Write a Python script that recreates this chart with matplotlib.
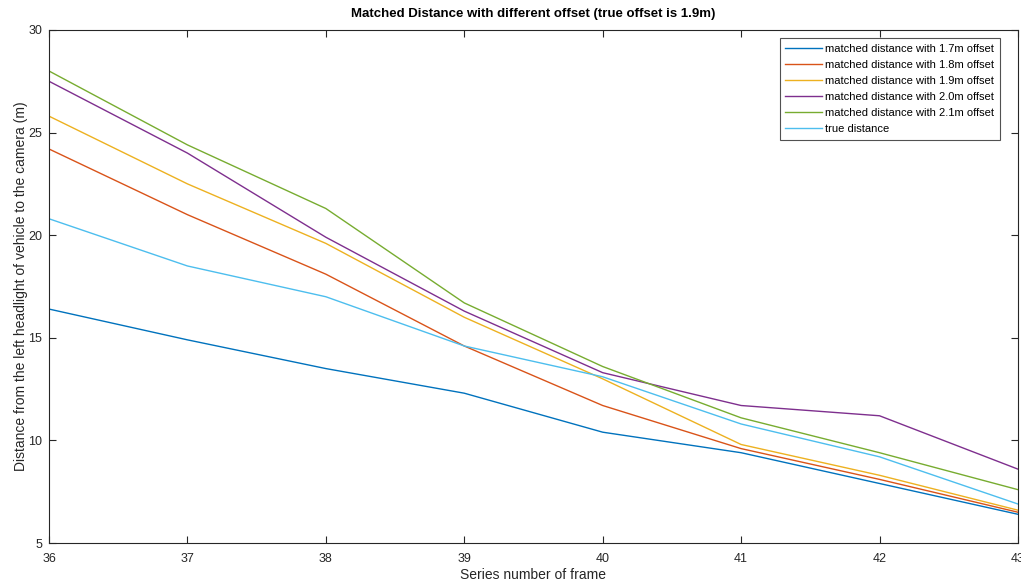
import matplotlib
matplotlib.use("Agg")
import matplotlib.pyplot as plt

plt.rcParams['font.family'] = ['Liberation Sans', 'DejaVu Sans']

frames = [36, 37, 38, 39, 40, 41, 42, 43]

dist_17 = [16.4, 14.9, 13.5, 12.3, 10.4, 9.4, 7.9, 6.4]
dist_18 = [24.2, 21.0, 18.1, 14.6, 11.7, 9.6, 8.1, 6.5]
dist_19 = [25.8, 22.5, 19.6, 16.0, 13.0, 9.8, 8.3, 6.6]
dist_20 = [27.5, 24.0, 19.9, 16.3, 13.3, 11.7, 11.2, 8.6]
dist_21 = [28.0, 24.4, 21.3, 16.7, 13.6, 11.1, 9.4, 7.6]
true_dist = [20.8, 18.5, 17.0, 14.6, 13.1, 10.8, 9.2, 6.9]

labels = [
    "matched distance with 1.7m offset",
    "matched distance with 1.8m offset",
    "matched distance with 1.9m offset",
    "matched distance with 2.0m offset",
    "matched distance with 2.1m offset",
    "true distance",
]
# default MATLAB line colours
colors = ["#0072BD", "#D95319", "#EDB120", "#7E2F8E", "#77AC30", "#4DBEEE"]
series = [dist_17, dist_18, dist_19, dist_20, dist_21, true_dist]

fig = plt.figure(figsize=(10.21, 5.83), dpi=100)
ax = fig.add_axes([0.048, 0.0686, 0.949, 0.88])

for ys, lab, c in zip(series, labels, colors):
    ax.plot(frames, ys, color=c, linewidth=1.0, label=lab)

ax.set_xlim(36, 43)
ax.set_ylim(5, 30)
ax.set_xticks(frames)
ax.set_yticks([5, 10, 15, 20, 25, 30])

axis_col = "#262626"
for sp in ax.spines.values():
    sp.set_color(axis_col)
    sp.set_linewidth(0.8)
ax.tick_params(direction="in", top=True, right=True, length=5, width=0.8,
               colors=axis_col, labelsize=9, labelcolor=axis_col)
ax.tick_params(axis="x", pad=7)
ax.tick_params(axis="y", pad=5)

ax.set_title("Matched Distance with different offset (true offset is 1.9m)",
             fontsize=9.5, fontweight="bold", color="black", pad=9)
ax.set_xlabel("Series number of frame", fontsize=10, color=axis_col, labelpad=2)
ax.set_ylabel("Distance from the left headlight of vehicle to the camera (m)",
              fontsize=10, color=axis_col, labelpad=0)

leg = ax.legend(loc="upper right", fontsize=8, frameon=True, fancybox=False,
                edgecolor=axis_col, handlelength=3.3, handletextpad=0.3,
                borderpad=0.5, labelspacing=0.55,
                bbox_to_anchor=(0.987, 0.995))
leg.get_frame().set_linewidth(0.8)

fig.savefig("out.png", dpi=100)
